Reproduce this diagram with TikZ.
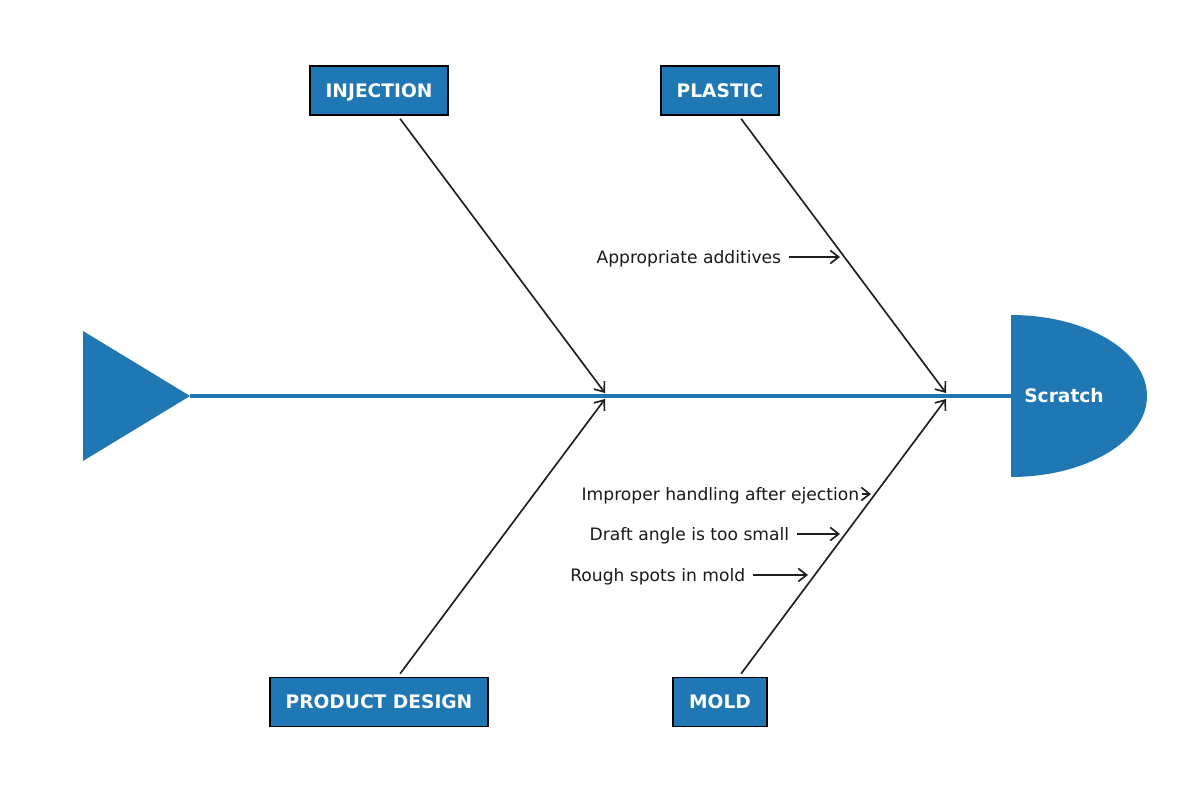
\documentclass[tikz,border=0pt]{standalone}
\usepackage{fontspec}
\setmainfont{DejaVu Sans}
\usetikzlibrary{arrows.meta}
\definecolor{tabblue}{HTML}{1F77B4}
\tikzset{
  catbox/.style={draw=black, line width=1.1pt, fill=tabblue, text=white,
    font=\fontsize{10.6}{12}\selectfont\bfseries, inner xsep=0.32cm,
    text height=7.7pt, text depth=0pt, minimum height=0.98cm},
  bone/.style={line width=0.95pt, draw=black!88, -{Straight Barb[length=4.8pt,width=7.5pt]}},
  causetext/.style={font=\fontsize{9.75}{11}\selectfont, text=black!90, inner xsep=0.15cm, inner ysep=0pt, anchor=east},
  causearrow/.style={line width=0.95pt, draw=black!88, -{Straight Barb[length=4.8pt,width=7.5pt]}},
}
\begin{document}
\begin{tikzpicture}[x=0.02cm, y=-0.02cm]
\useasboundingbox (0,0) rectangle (1187,803);
% tail and head
\coordinate (tailtip) at (190,396);
\coordinate (headleft) at (1011,396);
\fill[tabblue] (83,331) -- (tailtip) -- (83,461) -- cycle;
\fill[tabblue] (1011,315) arc[start angle=90, end angle=-90, x radius=2.72cm, y radius=1.62cm] -- cycle;
\draw[tabblue, line width=2.3pt] (tailtip) -- (headleft);
\node[text=white, font=\fontsize{10.6}{12}\selectfont\bfseries] (effect) at (1064,396) {Scratch};
% category boxes
\node[catbox] (inj) at (379,90.5) {INJECTION};
\node[catbox] (pla) at (720,90.5) {PLASTIC};
\node[catbox] (pd) at (379,702) {PRODUCT DESIGN};
\node[catbox] (mold) at (720,702) {MOLD};
% targets on spine
\coordinate (t1) at (605,393);
\coordinate (t2) at (946,393);
\coordinate (t3) at (605,399);
\coordinate (t4) at (946,399);
\draw[bone, shorten <=2pt] (inj) -- (t1);
\draw[bone, shorten <=2pt] (pla) -- (t2);
\draw[bone, shorten <=2pt] (pd) -- (t3);
\draw[bone, shorten <=2pt] (mold) -- (t4);
% causes
\node[causetext] (c1) at (789,259) {Appropriate additives};
\coordinate (e1) at (840,257);
\draw[causearrow] (c1.east |- e1) -- (e1);
\node[causetext, inner xsep=0.05cm] (c2) at (862,496) {Improper handling after ejection};
\coordinate (e2) at (871,494);
\draw[causearrow] (c2.east |- e2) -- (e2);
\node[causetext] (c3) at (797,536) {Draft angle is too small};
\coordinate (e3) at (840,534);
\draw[causearrow] (c3.east |- e3) -- (e3);
\node[causetext] (c4) at (753,577) {Rough spots in mold};
\coordinate (e4) at (808,575);
\draw[causearrow] (c4.east |- e4) -- (e4);
\end{tikzpicture}
\end{document}
